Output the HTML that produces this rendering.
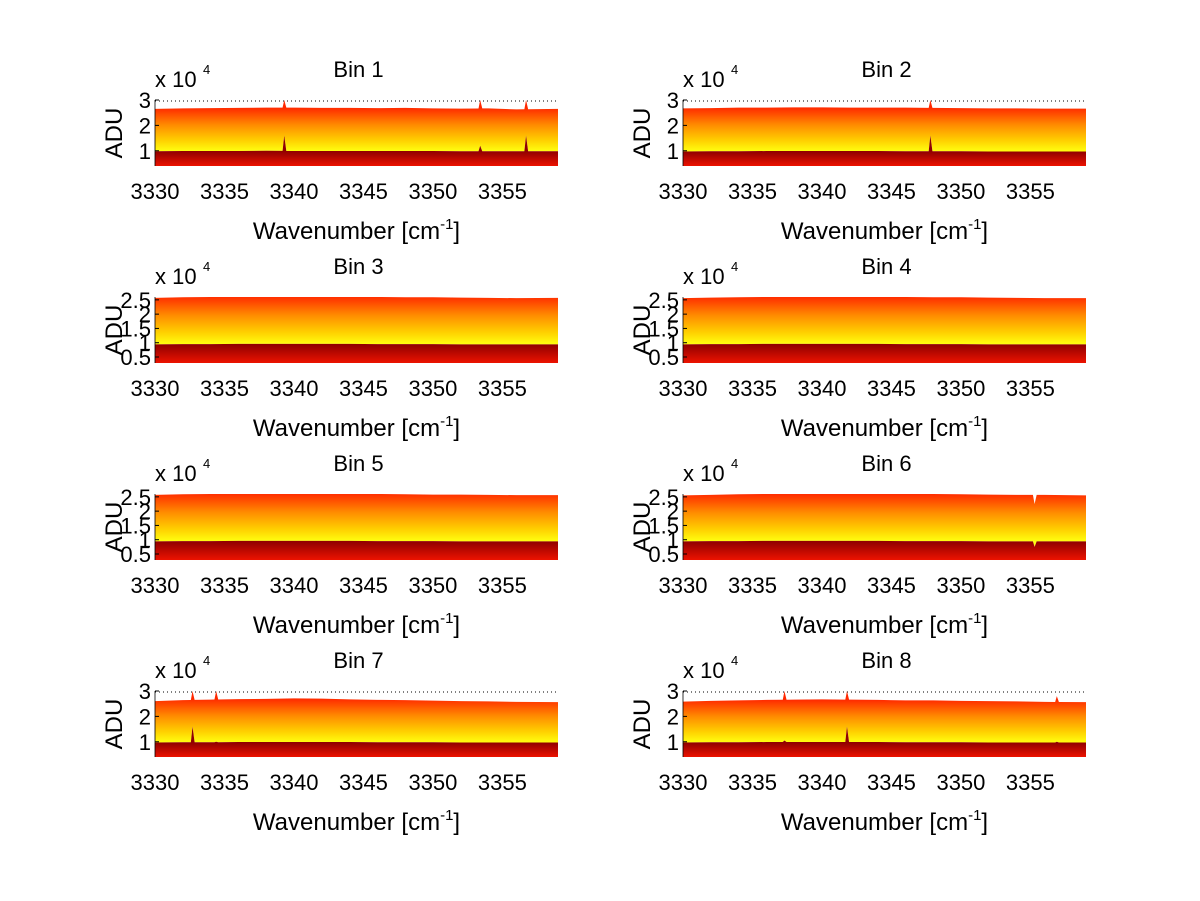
<!DOCTYPE html>
<html><head><meta charset="utf-8">
<style>
body{margin:0;background:#fff;}
svg{display:block;font-family:"Liberation Sans",sans-serif;}
</style></head>
<body>
<svg id="fig" width="1200" height="901" viewBox="0 0 1200 901">
<rect width="1200" height="901" fill="#fff"/>
</svg>
<script>
const NS="http://www.w3.org/2000/svg";
const xSamples=[3330,3332,3334,3336,3338,3340,3342,3344,3346,3348,3350,3352,3354,3356,3359];
const xTicks=[3330,3335,3340,3345,3350,3355];
const upper=[
[26500,26700,26800,26900,27000,27000,26900,26900,26800,26900,26700,26600,26700,26300,26500],
[26700,26800,27000,27000,27100,27100,27000,27000,27000,26900,26800,26700,26700,26600,26600],
[25700,25900,26000,26200,26300,26400,26300,26200,26100,25900,25900,25800,25700,25600,25700],
[25600,25800,25900,26100,26200,26300,26300,26200,26100,25900,25900,25800,25700,25600,25600],
[25700,25900,26000,26200,26300,26400,26300,26200,26100,25900,25800,25800,25700,25600,25600],
[25500,25700,25900,26000,26100,26200,26200,26100,26000,26000,25900,25800,25700,25700,25500],
[26000,26400,26600,26800,26900,27100,27000,26700,26500,26400,26200,26000,25900,25700,25600],
[25800,26100,26300,26500,26600,26700,26600,26500,26300,26300,26100,26000,25900,25700,25600]];
const lower=[
[9800,9900,9900,9900,10000,9900,9900,9900,9900,9900,9900,9800,9800,9800,9800],
[9700,9800,9800,9900,9900,9900,9900,9900,9800,9800,9800,9700,9700,9700,9700],
[9400,9500,9500,9600,9600,9600,9600,9600,9500,9500,9500,9400,9400,9400,9400],
[9400,9500,9500,9600,9600,9600,9600,9600,9500,9500,9500,9400,9400,9400,9400],
[9400,9500,9500,9600,9600,9600,9600,9600,9500,9500,9500,9400,9400,9400,9400],
[9400,9500,9500,9600,9600,9600,9600,9600,9500,9500,9500,9400,9400,9400,9400],
[9700,9800,9800,9900,9900,9900,9900,9900,9800,9800,9800,9700,9700,9700,9700],
[9700,9800,9800,9900,9900,9900,9900,9900,9800,9800,9800,9700,9700,9700,9700]];
// spikes: [wavenumber, upper peak, lower peak]
const spikes=[
[[3339.3,31000,16000],[3353.4,31000,12000],[3356.7,30500,16000]],
[[3347.8,31000,16000]],
[],[],[],
[[3355.3,22500,7500]],
[[3332.7,30500,16000],[3334.4,30500,10000]],
[[3337.3,30500,10500],[3341.8,31000,16000],[3356.9,28000,10000]]];
const yTicksA=[1,2,3], yTicksB=[0.5,1,1.5,2,2.5];
const yRangeA=[4000,30000], yRangeB=[2900,26000];

const svg=document.getElementById('fig');
function el(t,a,p){const e=document.createElementNS(NS,t);for(const k in a)e.setAttribute(k,a[k]);(p||svg).appendChild(e);return e;}
function txt(s,a,p){const e=el('text',a,p);e.textContent=s;return e;}
function interp(xs,ys,x){for(let i=0;i<xs.length-1;i++){if(x<=xs[i+1]){const t=(x-xs[i])/(xs[i+1]-xs[i]);return ys[i]+t*(ys[i+1]-ys[i]);}}return ys[ys.length-1];}

for(let b=0;b<8;b++){
  const col=b%2,row=Math.floor(b/2);
  const L=col?683:155,R=col?1086:558,T=100+row*197,B=166+row*197;
  const rng=(b<2||b>5)?yRangeA:yRangeB;
  const xs=x=>L+(x-3330)/(3359-3330)*(R-L);
  const ys=v=>B-(Math.max(v,rng[0])-rng[0])/(rng[1]-rng[0])*(B-T);
  const g=el('g',{},svg);
  
  
  let pts=xSamples.slice();
  spikes[b].forEach(s=>{pts.push(s[0]-0.12,s[0],s[0]+0.15);});
  pts.sort((a,c)=>a-c);
  const top=[],low=[];
  pts.forEach(x=>{
    let u=interp(xSamples,upper[b],x),l=interp(xSamples,lower[b],x);
    spikes[b].forEach(s=>{const d=x-s[0];if(Math.abs(d)<0.01){u=s[1];l=s[2];}});
    top.push([xs(x),ys(Math.min(u,rng[1]))]);low.push([xs(x),ys(l)]);
  });
  const upPts=top.map(p=>p.join(',')).concat(low.slice().reverse().map(p=>p.join(','))).join(' ');
  const lowPts=low.map(p=>p.join(',')).concat([[R,B].join(','),[L,B].join(',')]).join(' ');
  const midL=ys(lower[b][0]);
  const gu=el('linearGradient',{id:'gu'+b,gradientUnits:'userSpaceOnUse',x1:0,y1:midL,x2:0,y2:ys(upper[b][5])},g);
  [['0','#ffff10'],['0.25','#ffd000'],['0.6','#ff8c00'],['1','#ff2800']].forEach(s=>el('stop',{offset:s[0],'stop-color':s[1]},gu));
  const gl=el('linearGradient',{id:'gl'+b,gradientUnits:'userSpaceOnUse',x1:0,y1:B,x2:0,y2:midL},g);
  [['0','#ec1200'],['1','#900000']].forEach(s=>el('stop',{offset:s[0],'stop-color':s[1]},gl));
  const pu=el('polygon',{points:upPts,fill:'url(#gu'+b+')'},g);
  
  
  const pl=el('polygon',{points:lowPts,fill:'url(#gl'+b+')'},g);
  
  
  if(rng===yRangeA){el('line',{x1:L,y1:T+1,x2:R,y2:T+1,stroke:'#000','stroke-width':1,'stroke-dasharray':'1,3'},g);}
  const yt=rng===yRangeA?yTicksA:yTicksB;
  yt.forEach(v=>{const y=ys(v*1e4);
    el('line',{x1:L,y1:y,x2:L+4,y2:y,stroke:'#000'},g);
    const t=txt(String(v),{x:L-4,y:y+8,'font-size':22,'text-anchor':'end'},g);
    });
  el('line',{x1:L,y1:T,x2:L,y2:B,stroke:'#000','stroke-width':0.8},g);
  xTicks.forEach(v=>{const t=txt(String(v),{x:xs(v),y:B+33,'font-size':22,'text-anchor':'middle'},g);
    });
  const ti=txt('Bin '+(b+1),{x:(L+R)/2+2,y:T-23,'font-size':22,'text-anchor':'middle'},g);
  
  const ex=txt('x 10',{x:L,y:T-13,'font-size':22},g);
  
  txt('4',{x:L+48,y:T-26,'font-size':13},g);
  const ya=txt('ADU',{x:0,y:0,'font-size':24,'text-anchor':'middle',transform:`translate(${L-33},${(T+B)/2}) rotate(-90)`},g);
  
  const xa=el('text',{x:(L+R)/2,y:B+73,'font-size':24,'text-anchor':'middle'},g);
  
  xa.appendChild(document.createTextNode('Wavenumber [cm'));
  const sup=el('tspan',{dy:-10,'font-size':15},xa);sup.textContent='-1';
  const cl=el('tspan',{dy:10},xa);cl.textContent=']';
}
</script>
</body></html>
